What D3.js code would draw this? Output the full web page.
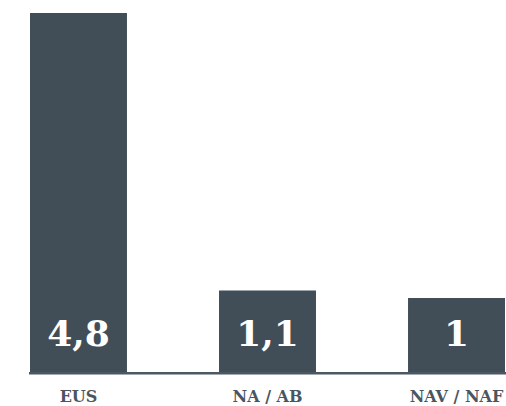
<!DOCTYPE html>
<html>
<head>
<meta charset="utf-8">
<script src="https://cdn.jsdelivr.net/npm/d3@7/dist/d3.min.js"></script>
<style>
  html, body { margin: 0; padding: 0; background: #fff; overflow: hidden; }
  svg { display: block; }
</style>
</head>
<body>
<div id="chart"></div>
<script>
// Data
const categories = ["EUS", "NA / AB", "NAV / NAF"]
const values = [4.8, 1.1, 1]

const COLORS = {
  bar: "#414e58",
  base: "#4b5761",
  label: "#4a555f",
  value: "#ffffff"
}

const W = 506, H = 406
const margin = { top: 13, right: 1, bottom: 33, left: 30 }

const svg = d3.select("#chart")
  .append("svg")
  .attr("width", W)
  .attr("height", H)

const x = d3.scaleBand()
  .domain(categories)
  .range([margin.left, W - margin.right])
  .paddingInner(0.487)
  .paddingOuter(0)

const y = d3.scaleLinear()
  .domain([0, d3.max(values)])
  .range([H - margin.bottom, margin.top])

const rows = categories.map((c, i) => ({ cat: c, val: values[i] }))

// Bars
svg.selectAll(".bar")
  .data(rows)
  .join("rect")
  .attr("class", "bar")
  .attr("x", d => x(d.cat))
  .attr("y", d => y(d.val))
  .attr("width", x.bandwidth())
  .attr("height", d => y(0) - y(d.val))
  .attr("fill", COLORS.bar)

// Baseline
svg.append("rect")
  .attr("x", margin.left - 1)
  .attr("y", y(0) - 1)
  .attr("width", W - margin.left + 1)
  .attr("height", 2.5)
  .attr("fill", COLORS.base)

// Value labels inside bars
svg.selectAll(".val")
  .data(rows)
  .join("text")
  .attr("class", "val")
  .attr("x", d => x(d.cat) + x.bandwidth() / 2)
  .attr("y", y(0) - 27)
  .attr("text-anchor", "middle")
  .attr("fill", COLORS.value)
  .attr("font-family", "'DejaVu Serif', serif")
  .attr("font-weight", "bold")
  .attr("font-size", "36px")
  .text(d => String(d.val).replace(".", ","))

// Category labels
const xAxis = svg.append("g")
  .attr("transform", `translate(0, ${y(0)})`)
  .call(d3.axisBottom(x).tickSize(0).tickPadding(0))

xAxis.select(".domain").remove()
xAxis.selectAll("text")
  .attr("dy", 0)
  .attr("y", 29)
  .attr("fill", COLORS.label)
  .attr("font-family", "'DejaVu Serif', serif")
  .attr("font-weight", "bold")
  .attr("font-size", "16px")
</script>
</body>
</html>
